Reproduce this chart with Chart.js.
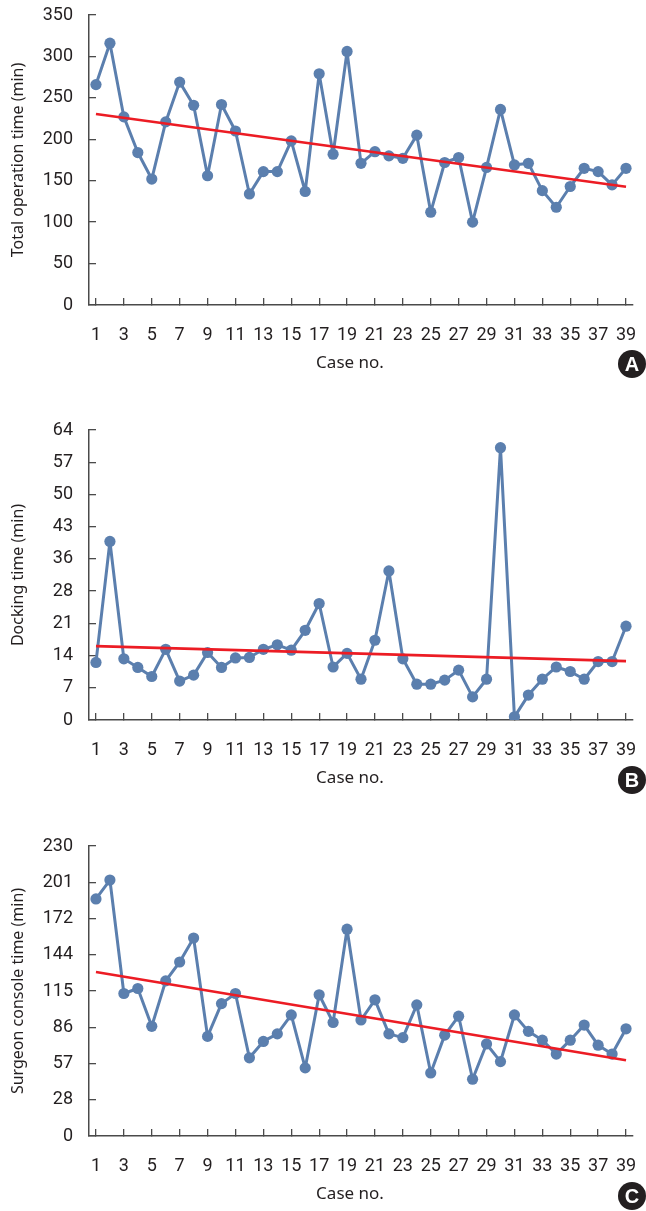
<!DOCTYPE html>
<html>
<head>
<meta charset="utf-8">
<script src="https://cdn.jsdelivr.net/npm/chart.js@4"></script>
<style>
  html, body { margin: 0; padding: 0; background: #fff; width: 646px; height: 1211px; overflow: hidden; }
  .panel { position: absolute; left: 0; width: 646px; height: 416px; }
  .xtitle { position: absolute; width: 200px; text-align: center; font-family: 'Noto Sans', sans-serif; font-size: 17px; color: #231f20; line-height: 20px; }
  .badge { position: absolute; width: 28px; height: 28px; border-radius: 50%; background: #231f20; color: #fff; font-family: 'Liberation Sans', Arial, sans-serif; font-weight: bold; font-size: 20px; line-height: 28px; text-align: center; }
</style>
</head>
<body>
<div class="panel" style="top:0px"><canvas id="cA" width="646" height="416"></canvas></div>
<div class="panel" style="top:415px"><canvas id="cB" width="646" height="416"></canvas></div>
<div class="panel" style="top:831px"><canvas id="cC" width="646" height="416"></canvas></div>
<div class="xtitle" style="left:250px; top:352px">Case no.</div>
<div class="xtitle" style="left:250px; top:767px">Case no.</div>
<div class="xtitle" style="left:250px; top:1183px">Case no.</div>
<div class="badge" style="left:618px; top:350px">A</div>
<div class="badge" style="left:618px; top:766px">B</div>
<div class="badge" style="left:618px; top:1182px">C</div>
<script>
// ---- data ----
const caseNos = ['1','2','3','4','5','6','7','8','9','10','11','12','13','14','15','16','17','18','19','20',
  '21','22','23','24','25','26','27','28','29','30','31','32','33','34','35','36','37','38','39'];

const totalOperation = [266,316,227,184,152,221,269,241,156,242,210,134,161,161,198,137,279,182,306,171,
  185,180,177,205,112,172,178,100,166,236,169,171,138,118,143,165,161,145,165];
const dockingTime = [12.7,39.4,13.5,11.6,9.6,15.6,8.6,9.9,14.9,11.6,13.7,13.8,15.6,16.6,15.4,19.8,25.7,11.7,14.7,9.0,
  17.6,32.9,13.5,7.9,7.9,8.8,11.0,5.1,9.0,60.1,0.7,5.5,9.0,11.7,10.7,9.0,12.9,12.9,20.7];
const consoleTime = [188,203,113,117,87,123,138,157,79,105,113,62,75,81,96,54,112,90,164,92,
  108,81,78,104,50,80,95,45,73,59,96,83,76,65,76,88,72,65,85];

// trend line endpoints (case 1, case 39)
const trendTotal = [230.6, 142.7];
const trendDocking = [16.3, 13.0];
const trendConsole = [130.1, 60.1];

// y tick labels (equally spaced from 0 to max)
const ticksTotal = ['0','50','100','150','200','250','300','350'];
const ticksDocking = ['0','7','14','21','28','36','43','50','57','64'];
const ticksConsole = ['0','28','57','86','115','144','172','201','230'];
const maxTotal = 350, maxDocking = 64, maxConsole = 230;

// ---- chart ----
const LINE = '#5b7fae';
const RED = '#ec1c24';
const AXIS = '#4a4a4a';

// use a narrow sans if installed, otherwise Roboto
function hasFont(name) {
  const c = document.createElement('canvas').getContext('2d');
  c.font = "40px monospace";
  const w0 = c.measureText('350 Case').width;
  c.font = "40px '" + name + "', monospace";
  return c.measureText('350 Case').width !== w0;
}
const TICKFONT = hasFont('Liberation Sans Narrow')
  ? { family: "'Liberation Sans Narrow', sans-serif", size: 20 }
  : { family: "Roboto, sans-serif", size: 18 };

function trendSeries(ends) {
  return caseNos.map((c, i) => i === 0 ? ends[0] : (i === caseNos.length - 1 ? ends[1] : null));
}

function makeChart(id, values, trend, tickLabels, yMax, yTitle) {
  new Chart(document.getElementById(id), {
    type: 'line',
    data: {
      labels: caseNos,
      datasets: [
        {
          data: trendSeries(trend), borderColor: RED, borderWidth: 2.6, pointRadius: 0,
          spanGaps: true, fill: false, order: 0, tension: 0
        },
        {
          data: values, borderColor: LINE, backgroundColor: LINE, borderWidth: 3,
          borderJoinStyle: 'round',
          pointRadius: 5.6, pointBackgroundColor: LINE, pointBorderColor: LINE, pointBorderWidth: 0,
          fill: false, order: 1, tension: 0
        }
      ]
    },
    options: {
      responsive: false,
      animation: false,
      events: [],
      layout: { padding: { left: 0, right: 13, top: 15, bottom: 61 } },
      plugins: { legend: { display: false }, tooltip: { enabled: false } },
      scales: {
        x: {
          type: 'category',
          offset: true,
          grid: { display: true, drawOnChartArea: false, drawTicks: true, tickLength: -7, color: AXIS, lineWidth: 1.3, offset: false },
          border: { display: true, color: AXIS, width: 1.5 },
          ticks: { autoSkip: false, maxRotation: 0, font: TICKFONT, color: '#231f20', padding: 27 },
          afterBuildTicks: (s) => { s.ticks = s.ticks.filter(t => t.value % 2 === 0); },
          afterFit: (s) => { s.height = 50; s.paddingLeft = 0; s.paddingRight = 0; }
        },
        y: {
          min: 0, max: yMax,
          grid: { display: true, drawOnChartArea: false, drawTicks: true, tickLength: -7, color: AXIS, lineWidth: 1.3 },
          border: { display: true, color: AXIS, width: 1.5 },
          ticks: {
            font: TICKFONT, color: '#231f20', padding: 23,
            callback: (v, i) => tickLabels[i]
          },
          afterBuildTicks: (s) => {
            s.ticks = tickLabels.map((l, i) => ({ value: i * yMax / (tickLabels.length - 1) }));
          },
          afterFit: (s) => { s.width = 89; s.paddingTop = 0; s.paddingBottom = 0; },
          title: {
            display: true, text: yTitle, color: '#231f20',
            font: { family: "'Noto Sans', sans-serif", size: 16 },
            padding: { top: 9, bottom: 0 }
          }
        }
      }
    }
  });
}

makeChart('cA', totalOperation, trendTotal, ticksTotal, maxTotal, 'Total operation time (min)');
makeChart('cB', dockingTime, trendDocking, ticksDocking, maxDocking, 'Docking time (min)');
makeChart('cC', consoleTime, trendConsole, ticksConsole, maxConsole, 'Surgeon console time (min)');
</script>
</body>
</html>
